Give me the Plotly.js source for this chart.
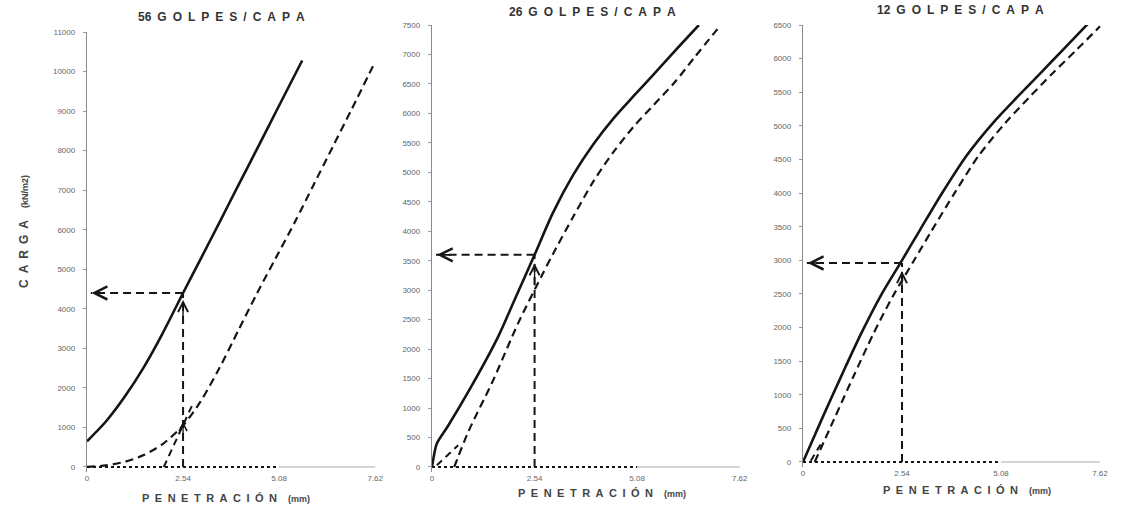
<!DOCTYPE html>
<html>
<head>
<meta charset="utf-8">
<script src="https://cdn.plot.ly/plotly-3.0.1.min.js"></script>
<style>html,body{margin:0;padding:0;background:#fff;}#chart{width:1128px;height:517px;}</style>
</head>
<body>
<div id="chart"></div>
<script>
// ---- data ----
const panelTitles = ["56", "26", "12"];
const xTickVals = [0, 2.54, 5.08, 7.62];
const xTickText = ["0", "2.54", "5.08", "7.62"];
const refX = 2.54;
const refLoads = [4400, 3600, 2960];

// 56 golpes
const p1SolidX = [0, 0.5, 1.0, 1.5, 2.0, 2.54, 3.0, 3.5, 4.0, 4.5, 5.0, 5.69];
const p1SolidY = [650, 1150, 1780, 2520, 3380, 4400, 5250, 6180, 7120, 8050, 8990, 10280];
const p1DashX = [0, 0.5, 1.0, 1.5, 2.0, 2.54, 3.0, 3.5, 4.0, 4.5, 5.0, 5.5, 6.0, 6.5, 7.0, 7.62];
const p1DashY = [0, 40, 130, 300, 580, 1050, 1650, 2500, 3450, 4400, 5300, 6200, 7150, 8100, 9050, 10250];
const p1TanX = [2.03, 2.8];
const p1TanY = [0, 1600];

// 26 golpes
const p2SolidX = [0, 0.05, 0.12, 0.4, 0.96, 1.63, 2.04, 2.54, 3.0, 3.5, 4.0, 4.5, 5.0, 5.5, 6.0, 6.61];
const p2SolidY = [0, 200, 400, 700, 1350, 2200, 2830, 3600, 4320, 4960, 5480, 5920, 6300, 6670, 7050, 7500];
const p2DashX = [0.55, 0.9, 1.5, 2.14, 2.72, 3.0, 3.5, 4.0, 4.5, 5.0, 5.5, 6.0, 6.5, 7.15];
const p2DashY = [0, 600, 1450, 2450, 3250, 3620, 4250, 4850, 5350, 5780, 6150, 6520, 6950, 7500];
const p2TanX = [0.12, 0.65];
const p2TanY = [30, 370];

// 12 golpes
const p3SolidX = [0, 0.5, 1.0, 1.5, 2.0, 2.54, 3.0, 3.59, 4.2, 4.9, 5.5, 6.12, 6.7, 7.33];
const p3SolidY = [0, 660, 1300, 1920, 2480, 3000, 3450, 4020, 4560, 5060, 5430, 5800, 6150, 6530];
const p3DashX = [0.3, 0.8, 1.3, 1.8, 2.3, 2.84, 3.3, 3.9, 4.5, 5.2, 5.8, 6.4, 7.0, 7.62];
const p3DashY = [0, 640, 1280, 1900, 2460, 2990, 3440, 4010, 4550, 5050, 5420, 5780, 6120, 6480];
const p3TanX = [0.2, 0.45];
const p3TanY = [20, 260];

const yRanges = [[-120, 11000], [-80, 7500], [-70, 6500]];
const yDtick = [1000, 500, 500];
const baseDotEnd = 5.08;
const axisEnd = 7.62;

// ---- build ----
const W = 1128, H = 517;
const xDom = [[87 / W, 382 / W], [432 / W, 747 / W], [803 / W, 1107 / W]];
const yDom = [[1 - 471.7 / H, 1 - 32 / H], [1 - 471.7 / H, 1 - 25 / H], [1 - 466.7 / H, 1 - 25 / H]];

const solids = [[p1SolidX, p1SolidY], [p2SolidX, p2SolidY], [p3SolidX, p3SolidY]];
const dashes = [[p1DashX, p1DashY], [p2DashX, p2DashY], [p3DashX, p3DashY]];
const tans = [[p1TanX, p1TanY], [p2TanX, p2TanY], [p3TanX, p3TanY]];

const ink = "#151515";
const traces = [];
const layout = {
  width: W, height: H, margin: {l: 0, r: 0, t: 0, b: 0},
  paper_bgcolor: "#ffffff", plot_bgcolor: "rgba(0,0,0,0)",
  showlegend: false, annotations: [],
  font: {family: "Liberation Sans, Arial, sans-serif", color: "#555"}
};
const sp = s => s.split("").join("\u2002");

for (let i = 0; i < 3; i++) {
  const xa = i === 0 ? "x" : "x" + (i + 1);
  const ya = i === 0 ? "y" : "y" + (i + 1);
  const xk = i === 0 ? "xaxis" : "xaxis" + (i + 1);
  const yk = i === 0 ? "yaxis" : "yaxis" + (i + 1);
  layout[xk] = {
    domain: xDom[i], range: [0, 7.8], anchor: ya, showgrid: false, zeroline: false,
    showline: false, tickmode: "array", tickvals: xTickVals, ticktext: xTickText,
    ticks: "", tickfont: {size: 8, color: "#666"}, fixedrange: true
  };
  layout[yk] = {
    domain: yDom[i], range: yRanges[i], anchor: xa, showgrid: false, zeroline: false,
    showline: true, linecolor: "#8a8a8a", linewidth: 1.2, tick0: 0, dtick: yDtick[i],
    tickformat: "d",
    ticks: "outside", ticklen: 3, tickcolor: "#999", tickfont: {size: 8, color: "#666"},
    ticklabelstandoff: 6, fixedrange: true
  };
  const common = {xaxis: xa, yaxis: ya, mode: "lines", hoverinfo: "skip", type: "scatter"};
  traces.push(Object.assign({x: [0, baseDotEnd], y: [0, 0], line: {color: ink, width: 2, dash: "dot"}}, common));
  traces.push(Object.assign({x: [baseDotEnd, axisEnd], y: [0, 0], line: {color: "#aaa", width: 1}}, common));
  traces.push(Object.assign({x: solids[i][0], y: solids[i][1], line: {color: ink, width: 2.6, shape: "spline", smoothing: 0.8}}, common));
  traces.push(Object.assign({x: dashes[i][0], y: dashes[i][1], line: {color: ink, width: 2.2, dash: "8px,5px", shape: "spline", smoothing: 0.8}}, common));
  traces.push(Object.assign({x: tans[i][0], y: tans[i][1], line: {color: ink, width: 2, dash: "7px,5px"}}, common));
  traces.push(Object.assign({x: [refX, refX], y: [0, refLoads[i]], line: {color: ink, width: 2, dash: "8px,5px"}}, common));
  traces.push(Object.assign({x: [refX, 0.1], y: [refLoads[i], refLoads[i]], line: {color: ink, width: 2, dash: "8px,5px"}}, common));
  layout.annotations.push({xref: xa, yref: ya, axref: xa, ayref: ya, x: 0.12, y: refLoads[i],
    ax: 0.5, ay: refLoads[i], text: "", showarrow: true, arrowhead: 5, arrowsize: 1.6, arrowwidth: 1.6, arrowcolor: ink});
  layout.annotations.push({xref: xa, yref: ya, axref: xa, ayref: ya, x: refX, y: refLoads[i] * 0.96,
    ax: refX, ay: refLoads[i] * 0.85, text: "", showarrow: true, arrowhead: 5, arrowsize: 1.4, arrowwidth: 1.4, arrowcolor: ink});
}
layout.annotations.push({xref: "x", yref: "y", axref: "x", ayref: "y", x: refX, y: 1150,
  ax: refX, ay: 700, text: "", showarrow: true, arrowhead: 5, arrowsize: 1.2, arrowwidth: 1.3, arrowcolor: ink});

// titles
const titleCx = [221, 592, 960];
const titleCy = [17, 12, 10];
const xtCx = [226, 602, 967];
const xtCy = [498, 493, 490];
for (let i = 0; i < 3; i++) {
  layout.annotations.push({xref: "paper", yref: "paper", x: titleCx[i] / W, y: 1 - titleCy[i] / H,
    xanchor: "center", yanchor: "middle", showarrow: false,
    text: "<b>" + panelTitles[i] + "\u2002" + sp("GOLPES/CAPA") + "</b>", font: {size: 12, color: "#333"}});
  layout.annotations.push({xref: "paper", yref: "paper", x: xtCx[i] / W, y: 1 - xtCy[i] / H,
    xanchor: "center", yanchor: "middle", showarrow: false,
    text: "<b>" + sp("PENETRACIÓN") + "</b>\u2003<span style='font-size:9px'><b>(mm)</b></span>", font: {size: 11, color: "#444"}});
}
layout.annotations.push({xref: "paper", yref: "paper", x: 24 / W, y: 1 - 232 / H, textangle: -90,
  xanchor: "center", yanchor: "middle", showarrow: false,
  text: "<b>" + sp("CARGA") + "</b>\u2003<span style='font-size:9px'><b>(kN/m2)</b></span>", font: {size: 12, color: "#444"}});

Plotly.newPlot("chart", traces, layout, {staticPlot: true, displayModeBar: false});
</script>
</body>
</html>
